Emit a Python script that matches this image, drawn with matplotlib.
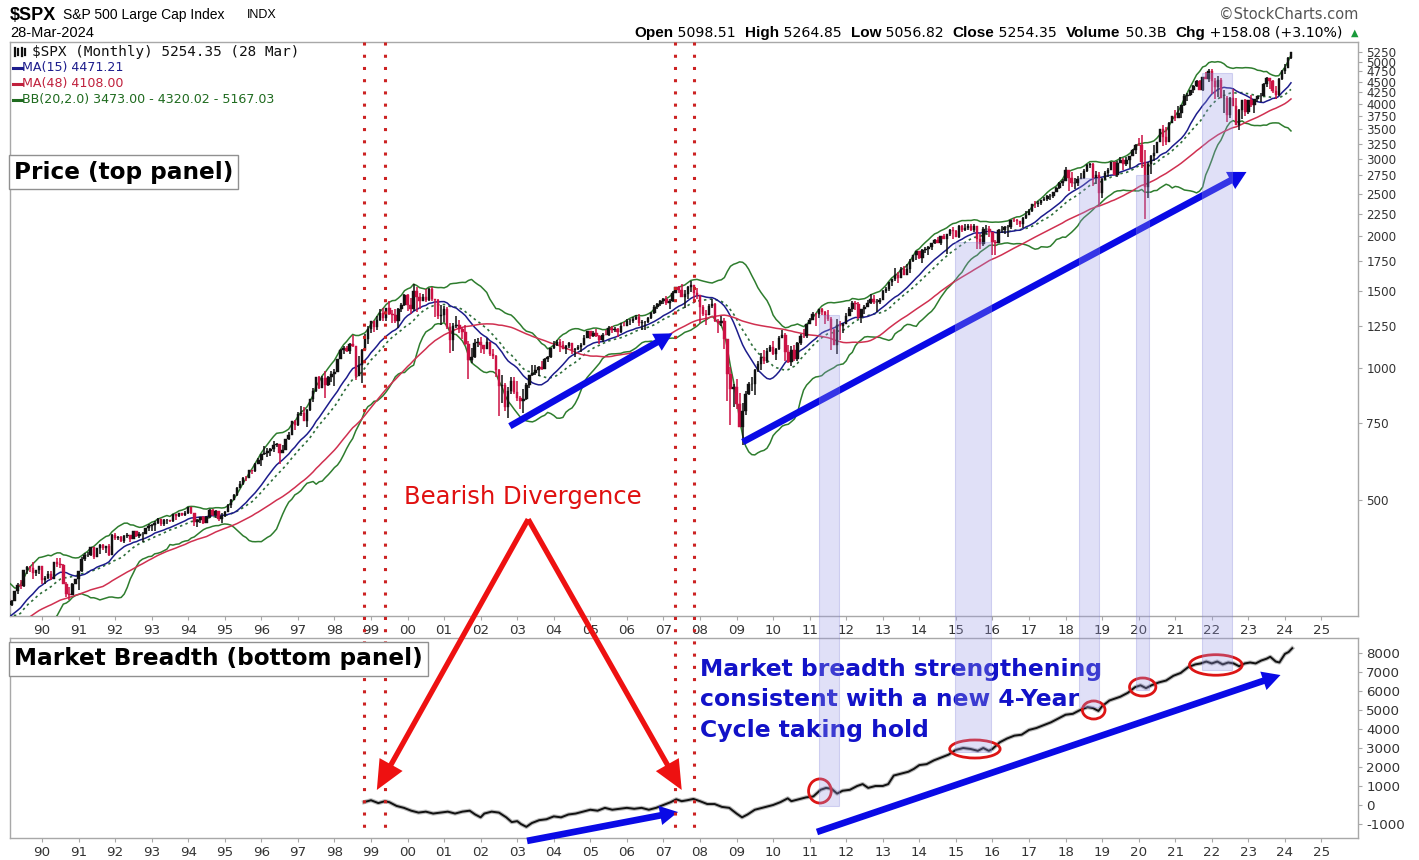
import numpy as np
import pandas as pd
import matplotlib
matplotlib.use("Agg")
import matplotlib.pyplot as plt
from matplotlib.patches import Polygon, Ellipse, FancyArrowPatch, ConnectionPatch, ArrowStyle
from matplotlib.lines import Line2D
from matplotlib.ticker import NullLocator

# ---------------- data ----------------
first_year = 1985  # monthly closes start Jan 1985 (needed to seed the moving averages)
monthly_close = [
    179.63, 181.18, 180.66, 179.83, 189.55, 191.85, 190.92, 188.63, 182.08, 189.82, 202.17, 211.28,  # 1985
    211.78, 226.92, 238.90, 235.52, 247.35, 250.84, 236.12, 252.93, 231.32, 243.98, 249.22, 242.17,  # 1986
    274.08, 284.20, 291.70, 288.36, 290.10, 304.00, 318.66, 329.80, 321.83, 251.79, 230.30, 247.08,  # 1987
    257.07, 267.82, 258.89, 261.33, 262.16, 273.50, 272.02, 261.52, 271.91, 278.97, 273.70, 277.72,  # 1988
    297.47, 288.86, 294.87, 309.64, 320.52, 317.98, 346.08, 351.45, 349.15, 340.36, 345.99, 353.40,  # 1989
    329.08, 331.89, 339.94, 330.80, 361.23, 358.02, 356.15, 322.56, 306.05, 304.00, 322.22, 330.22,  # 1990
    343.93, 367.07, 375.22, 375.34, 389.83, 371.16, 387.81, 395.43, 387.86, 392.46, 375.22, 417.09,  # 1991
    408.79, 412.70, 403.69, 414.95, 415.35, 408.14, 424.21, 414.03, 417.80, 418.68, 431.35, 435.71,  # 1992
    438.78, 443.38, 451.67, 440.19, 450.19, 450.53, 448.13, 463.56, 458.93, 467.83, 461.79, 466.45,  # 1993
    481.61, 467.14, 445.77, 450.91, 456.50, 444.27, 458.26, 475.49, 462.69, 472.35, 453.69, 459.27,  # 1994
    470.42, 487.39, 500.71, 514.71, 533.40, 544.75, 562.06, 561.88, 584.41, 581.50, 605.37, 615.93,  # 1995
    636.02, 640.43, 645.50, 654.17, 669.12, 670.63, 639.95, 651.99, 687.31, 705.27, 757.02, 740.74,  # 1996
    786.16, 790.82, 757.12, 801.34, 848.28, 885.14, 954.31, 899.47, 947.28, 914.62, 955.40, 970.43,  # 1997
    980.28, 1049.34, 1101.75, 1111.75, 1090.82, 1133.84, 1120.67, 957.28, 1017.01, 1098.67, 1163.63, 1229.23,  # 1998
    1279.64, 1238.33, 1286.37, 1335.18, 1301.84, 1372.71, 1328.72, 1320.41, 1282.71, 1362.93, 1388.91, 1469.25,  # 1999
    1394.46, 1366.42, 1498.58, 1452.43, 1420.60, 1454.60, 1430.83, 1517.68, 1436.51, 1429.40, 1314.95, 1320.28,  # 2000
    1366.01, 1239.94, 1160.33, 1249.46, 1255.82, 1224.42, 1211.23, 1133.58, 1040.94, 1059.78, 1139.45, 1148.08,  # 2001
    1130.20, 1106.73, 1147.39, 1076.92, 1067.14, 989.82, 911.62, 916.07, 815.28, 885.76, 936.31, 879.82,  # 2002
    855.70, 841.15, 848.18, 916.92, 963.59, 974.50, 990.31, 1008.01, 995.97, 1050.71, 1058.20, 1111.92,  # 2003
    1131.13, 1144.94, 1126.21, 1107.30, 1120.68, 1140.84, 1101.72, 1104.24, 1114.58, 1130.20, 1173.82, 1211.92,  # 2004
    1181.27, 1203.60, 1180.59, 1156.85, 1191.50, 1191.33, 1234.18, 1220.33, 1228.81, 1207.01, 1249.48, 1248.29,  # 2005
    1280.08, 1280.66, 1294.83, 1310.61, 1270.09, 1270.20, 1276.66, 1303.82, 1335.85, 1377.94, 1400.63, 1418.30,  # 2006
    1438.24, 1406.82, 1420.86, 1482.37, 1530.62, 1503.35, 1455.27, 1473.99, 1526.75, 1549.38, 1481.14, 1468.36,  # 2007
    1378.55, 1330.63, 1322.70, 1385.59, 1400.38, 1280.00, 1267.38, 1282.83, 1166.36, 968.75, 896.24, 903.25,  # 2008
    825.88, 735.09, 797.87, 872.81, 919.14, 919.32, 987.48, 1020.62, 1057.08, 1036.19, 1095.63, 1115.10,  # 2009
    1073.87, 1104.49, 1169.43, 1186.69, 1089.41, 1030.71, 1101.60, 1049.33, 1141.20, 1183.26, 1180.55, 1257.64,  # 2010
    1286.12, 1327.22, 1325.83, 1363.61, 1345.20, 1320.64, 1292.28, 1218.89, 1131.42, 1253.30, 1246.96, 1257.60,  # 2011
    1312.41, 1365.68, 1408.47, 1397.91, 1310.33, 1362.16, 1379.32, 1406.58, 1440.67, 1412.16, 1416.18, 1426.19,  # 2012
    1498.11, 1514.68, 1569.19, 1597.57, 1630.74, 1606.28, 1685.73, 1632.97, 1681.55, 1756.54, 1805.81, 1848.36,  # 2013
    1782.59, 1859.45, 1872.34, 1883.95, 1923.57, 1960.23, 1930.67, 2003.37, 1972.29, 2018.05, 2067.56, 2058.90,  # 2014
    1994.99, 2104.50, 2067.89, 2085.51, 2107.39, 2063.11, 2103.84, 1972.18, 1920.03, 2079.36, 2080.41, 2043.94,  # 2015
    1940.24, 1932.23, 2059.74, 2065.30, 2096.95, 2098.86, 2173.60, 2170.95, 2168.27, 2126.15, 2198.81, 2238.83,  # 2016
    2278.87, 2363.64, 2362.72, 2384.20, 2411.80, 2423.41, 2470.30, 2471.65, 2519.36, 2575.26, 2647.58, 2673.61,  # 2017
    2823.81, 2713.83, 2640.87, 2648.05, 2705.27, 2718.37, 2816.29, 2901.52, 2913.98, 2711.74, 2760.17, 2506.85,  # 2018
    2704.10, 2784.49, 2834.40, 2945.83, 2752.06, 2941.76, 2980.38, 2926.46, 2976.74, 3037.56, 3140.98, 3230.78,  # 2019
    3225.52, 2954.22, 2584.59, 2912.43, 3044.31, 3100.29, 3271.12, 3500.31, 3363.00, 3269.96, 3621.63, 3756.07,  # 2020
    3714.24, 3811.15, 3972.89, 4181.17, 4204.11, 4297.50, 4395.26, 4522.68, 4307.54, 4605.38, 4567.00, 4766.18,  # 2021
    4515.55, 4373.94, 4530.41, 4131.93, 4132.15, 3785.38, 4130.29, 3955.00, 3585.62, 3871.98, 4080.11, 3839.50,  # 2022
    4076.60, 3970.15, 4109.31, 4169.48, 4179.83, 4450.38, 4588.96, 4507.66, 4288.05, 4193.80, 4567.80, 4769.83,  # 2023
    4845.65, 5096.27, 5254.35,  # 2024
]

candle_first_year = 1989  # highs / lows start Jan 1989
monthly_high = [
    297.5, 300.0, 296.0, 310.0, 323.0, 328.0, 347.0, 353.0, 354.0, 360.4, 346.0, 354.0,
    354.0, 336.0, 344.0, 344.0, 362.0, 368.0, 369.8, 357.0, 325.0, 316.0, 324.0, 331.0,
    344.0, 370.0, 378.0, 381.0, 390.0, 391.0, 389.0, 396.0, 396.0, 393.0, 398.0, 418.0,
    420.8, 414.0, 413.0, 417.0, 420.0, 417.0, 424.5, 425.0, 423.0, 422.0, 431.5, 441.0,
    442.0, 449.0, 456.0, 452.0, 453.0, 452.0, 451.0, 464.0, 463.0, 468.0, 468.0, 471.0,
    482.9, 482.0, 468.0, 452.0, 457.0, 459.0, 459.0, 477.0, 476.0, 474.0, 473.0, 466.0,
    472.0, 489.0, 503.0, 515.0, 535.0, 552.0, 564.0, 566.0, 586.0, 587.0, 606.0, 622.0,
    637.0, 665.0, 656.0, 658.0, 680.0, 673.0, 672.0, 666.0, 690.0, 714.0, 758.0, 762.0,
    794.0, 818.0, 815.0, 805.0, 851.0, 899.0, 955.0, 961.0, 961.0, 983.0, 960.0, 986.0,
    993.0, 1051.0, 1105.0, 1123.0, 1122.0, 1139.0, 1190.6, 1121.0, 1066.0, 1104.0, 1193.0, 1244.0,
    1283.0, 1282.0, 1317.0, 1364.0, 1374.0, 1374.0, 1420.0, 1357.0, 1362.0, 1373.0, 1408.0, 1473.0,
    1478.0, 1445.0, 1553.0, 1527.0, 1481.0, 1475.0, 1517.0, 1525.0, 1531.0, 1437.0, 1437.0, 1390.0,
    1383.0, 1376.0, 1268.0, 1269.0, 1316.0, 1287.0, 1239.0, 1255.0, 1155.0, 1110.0, 1163.0, 1173.0,
    1176.0, 1131.0, 1173.0, 1147.0, 1106.0, 1070.0, 994.0, 965.0, 925.0, 907.0, 952.0, 954.0,
    935.0, 864.0, 895.0, 924.0, 965.0, 1015.0, 1015.0, 1012.0, 1040.0, 1053.0, 1063.0, 1112.0,
    1155.0, 1158.0, 1163.0, 1150.0, 1128.0, 1146.0, 1141.0, 1110.0, 1131.0, 1143.0, 1188.0, 1217.0,
    1217.0, 1212.0, 1229.0, 1192.0, 1199.0, 1219.0, 1246.0, 1245.0, 1243.0, 1233.0, 1270.0, 1276.0,
    1295.0, 1297.0, 1310.0, 1318.0, 1326.0, 1284.0, 1281.0, 1306.0, 1340.0, 1389.0, 1407.0, 1431.0,
    1441.0, 1461.0, 1438.0, 1499.0, 1534.0, 1540.0, 1556.0, 1503.0, 1539.0, 1576.1, 1545.0, 1523.0,
    1471.0, 1396.0, 1359.0, 1397.0, 1440.0, 1404.0, 1292.0, 1314.0, 1303.0, 1167.0, 1007.0, 919.0,
    943.8, 875.0, 832.0, 888.0, 930.0, 956.0, 997.0, 1039.0, 1080.0, 1101.0, 1113.0, 1130.0,
    1150.0, 1113.0, 1181.0, 1219.8, 1205.0, 1131.0, 1120.0, 1129.0, 1148.0, 1196.0, 1227.0, 1263.0,
    1302.0, 1344.0, 1333.0, 1366.0, 1370.6, 1346.0, 1356.0, 1308.0, 1230.0, 1293.0, 1277.0, 1270.0,
    1333.0, 1378.0, 1420.0, 1422.0, 1415.0, 1363.0, 1392.0, 1426.0, 1474.5, 1470.0, 1434.0, 1448.0,
    1504.0, 1530.0, 1570.0, 1598.0, 1687.0, 1654.0, 1698.0, 1709.0, 1729.9, 1775.0, 1813.0, 1849.0,
    1850.8, 1867.0, 1884.0, 1897.0, 1925.0, 1968.0, 1991.0, 2005.0, 2019.3, 2018.0, 2075.8, 2093.6,
    2064.4, 2119.6, 2117.5, 2125.9, 2134.7, 2129.9, 2132.8, 2112.7, 2021.0, 2094.3, 2116.5, 2104.3,
    2038.2, 1962.9, 2072.2, 2111.1, 2103.5, 2120.6, 2177.1, 2193.8, 2187.9, 2169.6, 2214.1, 2277.5,
    2300.9, 2371.5, 2401.0, 2398.2, 2418.7, 2453.8, 2484.0, 2490.9, 2519.4, 2582.0, 2657.7, 2695.0,
    2872.9, 2789.2, 2801.9, 2717.5, 2742.2, 2791.5, 2848.0, 2916.5, 2940.9, 2939.9, 2815.2, 2800.2,
    2708.0, 2813.5, 2860.3, 2949.5, 2954.1, 2964.2, 3028.0, 3013.6, 3022.0, 3050.1, 3154.3, 3247.9,
    3337.8, 3393.5, 3136.7, 2954.9, 3068.7, 3233.1, 3280.0, 3514.8, 3588.1, 3549.9, 3646.0, 3760.2,
    3870.9, 3950.4, 3983.9, 4218.8, 4238.0, 4302.4, 4430.0, 4537.4, 4545.9, 4608.1, 4743.8, 4808.9,
    4818.6, 4595.3, 4637.3, 4593.5, 4307.7, 4177.5, 4140.2, 4325.3, 4119.3, 3905.4, 4080.1, 4101.0,
    4094.2, 4195.4, 4110.8, 4170.1, 4231.1, 4458.5, 4607.1, 4584.6, 4541.3, 4393.6, 4587.6, 4793.3,
    4931.1, 5111.1, 5264.85,
]
monthly_low = [
    277.7, 287.0, 286.0, 294.0, 306.0, 313.0, 317.0, 339.0, 342.0, 331.0, 336.0, 340.0,
    322.0, 322.0, 331.0, 328.0, 330.0, 352.0, 350.0, 321.0, 300.0, 295.5, 303.0, 322.0,
    311.5, 343.0, 364.0, 370.0, 373.0, 367.0, 370.0, 376.0, 384.0, 379.0, 372.0, 375.0,
    406.0, 406.0, 401.0, 399.0, 409.0, 401.0, 408.0, 411.0, 410.0, 402.0, 418.0, 426.0,
    426.0, 426.0, 440.0, 437.0, 437.0, 441.0, 445.0, 445.0, 450.0, 457.0, 459.0, 460.0,
    465.0, 464.0, 436.0, 435.0, 444.0, 442.0, 443.0, 456.0, 460.0, 455.0, 449.0, 443.0,
    457.0, 470.0, 479.0, 500.0, 511.0, 532.0, 542.0, 553.0, 560.0, 572.0, 579.0, 605.0,
    597.0, 633.0, 627.0, 630.0, 645.0, 662.0, 605.0, 639.0, 649.0, 684.0, 703.0, 723.0,
    737.0, 778.0, 756.0, 733.0, 798.0, 835.0, 884.0, 898.0, 899.0, 855.0, 911.0, 928.0,
    912.0, 980.0, 1046.0, 1076.0, 1088.0, 1074.0, 1114.0, 939.0, 957.0, 923.0, 1094.0, 1137.0,
    1205.0, 1211.0, 1223.0, 1282.0, 1281.0, 1278.0, 1322.0, 1268.0, 1269.0, 1233.0, 1342.0, 1387.0,
    1350.0, 1325.0, 1346.0, 1339.0, 1361.0, 1420.0, 1413.0, 1421.0, 1421.0, 1305.0, 1294.0, 1254.0,
    1274.0, 1228.0, 1081.0, 1091.0, 1232.0, 1203.0, 1165.0, 1126.0, 944.8, 1026.0, 1054.0, 1114.0,
    1081.0, 1074.0, 1106.0, 1064.0, 1048.0, 952.0, 775.7, 833.0, 800.0, 768.6, 872.0, 872.0,
    840.0, 806.0, 789.0, 847.0, 902.0, 957.0, 962.0, 960.0, 990.0, 995.0, 1031.0, 1053.0,
    1105.0, 1124.0, 1087.0, 1107.0, 1076.0, 1113.0, 1078.0, 1060.0, 1102.0, 1090.0, 1127.0, 1173.0,
    1163.0, 1180.0, 1176.0, 1137.0, 1146.0, 1188.0, 1183.0, 1201.0, 1206.0, 1176.0, 1202.0, 1246.0,
    1245.0, 1253.0, 1268.0, 1290.0, 1245.0, 1219.0, 1224.0, 1265.0, 1291.0, 1331.0, 1360.0, 1385.0,
    1403.0, 1389.0, 1364.0, 1416.0, 1484.0, 1485.0, 1454.0, 1370.6, 1439.0, 1490.0, 1406.0, 1435.0,
    1270.0, 1317.0, 1256.0, 1318.0, 1373.0, 1272.0, 1200.0, 1247.0, 1106.0, 839.8, 741.0, 815.0,
    805.0, 735.0, 666.8, 783.0, 866.0, 888.0, 869.0, 978.0, 992.0, 1020.0, 1029.0, 1086.0,
    1071.0, 1044.0, 1101.0, 1170.0, 1040.0, 1028.0, 1011.0, 1040.0, 1040.0, 1131.0, 1173.0, 1173.0,
    1257.0, 1290.0, 1249.0, 1302.0, 1319.0, 1258.0, 1283.0, 1101.0, 1136.0, 1074.8, 1158.0, 1202.0,
    1258.0, 1312.0, 1340.0, 1358.0, 1291.0, 1267.0, 1325.0, 1378.0, 1397.0, 1403.0, 1343.0, 1398.0,
    1426.0, 1485.0, 1501.0, 1536.0, 1581.0, 1560.0, 1604.0, 1627.0, 1633.0, 1646.0, 1746.0, 1767.0,
    1770.0, 1737.9, 1834.0, 1814.0, 1859.0, 1915.0, 1930.0, 1904.8, 1964.0, 1820.7, 2001.0, 1972.6,
    1988.1, 1980.9, 2039.7, 2048.4, 2067.9, 2056.3, 2044.0, 1867.0, 1871.9, 1893.7, 2019.4, 1993.3,
    1812.3, 1810.1, 1937.1, 2033.8, 2025.9, 1991.7, 2074.0, 2147.6, 2119.1, 2097.8, 2083.8, 2187.4,
    2245.1, 2271.7, 2322.3, 2328.9, 2352.7, 2405.7, 2407.7, 2417.4, 2446.6, 2515.2, 2557.4, 2605.5,
    2682.4, 2532.7, 2585.9, 2553.8, 2594.6, 2692.0, 2698.9, 2796.3, 2864.1, 2603.5, 2631.1, 2346.6,
    2444.0, 2681.8, 2722.3, 2848.6, 2750.5, 2728.8, 2952.2, 2822.1, 2891.9, 2855.9, 3050.7, 3070.3,
    3214.6, 2855.8, 2191.9, 2447.5, 2766.6, 2965.7, 3115.0, 3284.5, 3209.5, 3233.9, 3279.7, 3633.4,
    3662.7, 3725.6, 3723.3, 3955.5, 4056.9, 4164.4, 4233.1, 4367.7, 4305.9, 4278.9, 4560.0, 4495.1,
    4222.6, 4114.7, 4157.9, 4124.3, 3810.3, 3636.9, 3721.6, 3954.5, 3584.1, 3491.6, 3698.2, 3764.5,
    3794.3, 3943.1, 3808.9, 4048.3, 4048.3, 4166.2, 4385.1, 4335.3, 4238.6, 4103.8, 4167.9, 4546.5,
    4682.1, 4853.4, 5056.82,
]

# market breadth line
breadth_time = [
    1998.81, 1999.0, 1999.2, 1999.38, 1999.5, 1999.7, 1999.9, 2000.1, 2000.3, 2000.5, 2000.7, 2000.9,
    2001.1, 2001.3, 2001.5, 2001.7, 2001.85, 2002.0, 2002.1, 2002.3, 2002.5, 2002.7, 2002.85, 2003.0,
    2003.1, 2003.25, 2003.4, 2003.6, 2003.8, 2004.0, 2004.2, 2004.4, 2004.6, 2004.8, 2005.0, 2005.2,
    2005.4, 2005.6, 2005.8, 2006.0, 2006.2, 2006.4, 2006.6, 2006.8, 2007.0, 2007.2, 2007.35, 2007.5,
    2007.65, 2007.82, 2008.0, 2008.2, 2008.4, 2008.6, 2008.8, 2009.0, 2009.15, 2009.3, 2009.5, 2009.7,
    2010.0, 2010.2, 2010.4, 2010.5, 2010.7, 2010.9, 2011.1, 2011.3, 2011.45, 2011.6, 2011.75, 2011.9,
    2012.1, 2012.3, 2012.45, 2012.6, 2012.8, 2013.0, 2013.15, 2013.3, 2013.5, 2013.7, 2013.85, 2014.0,
    2014.2, 2014.4, 2014.6, 2014.8, 2015.0, 2015.2, 2015.4, 2015.6, 2015.75, 2015.9, 2016.0, 2016.2,
    2016.4, 2016.6, 2016.8, 2017.0, 2017.2, 2017.4, 2017.6, 2017.8, 2018.0, 2018.2, 2018.4, 2018.6,
    2018.75, 2018.9, 2019.0, 2019.2, 2019.35, 2019.5, 2019.7, 2019.9, 2020.05, 2020.2, 2020.35, 2020.55,
    2020.75, 2020.95, 2021.15, 2021.35, 2021.55, 2021.7, 2021.85, 2022.0, 2022.15, 2022.3, 2022.45, 2022.6,
    2022.75, 2022.9, 2023.05, 2023.2, 2023.35, 2023.5, 2023.6, 2023.75, 2023.85, 2024.0, 2024.1, 2024.2,
]
breadth_value = [
    150, 250, 100, 200, 150, -50, -150, -300, -400, -350, -450, -400,
    -350, -450, -350, -300, -500, -650, -450, -350, -400, -650, -900, -850,
    -1000, -1150, -950, -800, -750, -600, -650, -500, -450, -350, -250, -300,
    -150, -250, -200, -150, -200, -150, -250, -150, 0, 150, 300, 200,
    250, 320, 200, 50, 50, -100, -150, -450, -650, -500, -250, -150,
    0, 150, 350, 200, 300, 400, 450, 800, 900, 850, 600, 750,
    800, 1000, 1100, 900, 1000, 1000, 1100, 1550, 1650, 1750, 1900, 2100,
    2150, 2350, 2500, 2650, 2900, 3000, 2950, 2850, 3000, 2850, 2950, 3300,
    3500, 3650, 3700, 3950, 4050, 4200, 4350, 4550, 4750, 4800, 5000, 5150,
    5100, 4950, 5200, 5500, 5600, 5700, 5900, 6200, 6300, 6150, 6300, 6450,
    6550, 6800, 6950, 7250, 7400, 7450, 7550, 7450, 7550, 7400, 7500, 7450,
    7300, 7450, 7500, 7450, 7600, 7700, 7800, 7550, 7500, 7950, 8050, 8250,
]

price_ticks = [500, 750, 1000, 1250, 1500, 1750, 2000, 2250, 2500, 2750, 3000,
               3250, 3500, 3750, 4000, 4250, 4500, 4750, 5000, 5250]
breadth_ticks = [-1000, 0, 1000, 2000, 3000, 4000, 5000, 6000, 7000, 8000]
year_ticks = list(range(1990, 2026))

# ---------------- derived series ----------------
close = pd.Series(monthly_close, dtype=float)
t_all = first_year + np.arange(len(close)) / 12.0
ma15 = close.rolling(15).mean()
ma48 = close.rolling(48).mean()
bb_mid = close.rolling(20).mean()
bb_std = close.rolling(20).std(ddof=0)
bb_up = bb_mid + 2 * bb_std
bb_lo = bb_mid - 2 * bb_std

off = (candle_first_year - first_year) * 12
c_close = close.values[off:]
c_open = close.shift(1).values[off:]
c_high = np.array(monthly_high)
c_low = np.array(monthly_low)
c_t = t_all[off:]

# ---------------- figure ----------------
W, H = 1419, 860
fig = plt.figure(figsize=(W / 100, H / 100), dpi=100)
fig.patch.set_facecolor("white")
FONT = "DejaVu Sans"

def frame(x0, y0, x1, y1):
    return [x0 / W, 1 - y1 / H, (x1 - x0) / W, (y1 - y0) / H]

ax1 = fig.add_axes(frame(10, 42, 1358, 616))
ax2 = fig.add_axes(frame(10, 638, 1358, 838))

XL = (1989.125, 2026.0)
SPINE = "#a8a8a8"
TICKC = "#333333"
for ax in (ax1, ax2):
    ax.set_xlim(*XL)
    for s in ax.spines.values():
        s.set_color(SPINE)
        s.set_linewidth(1.0)
    ax.yaxis.tick_right()
    ax.set_xticks(year_ticks)
    ax.set_xticklabels([f"{y % 100:02d}" for y in year_ticks], fontfamily=FONT)
    ax.tick_params(axis="x", length=3, color=SPINE, labelsize=9.6, labelcolor=TICKC, pad=3)
    ax.tick_params(axis="y", length=3, color=SPINE, labelsize=9.6, labelcolor=TICKC, pad=3)

# --- top panel: price ---
ax1.set_yscale("log")
ax1.set_ylim(272, 5540)
ax1.yaxis.set_minor_locator(NullLocator())
ax1.yaxis.set_minor_formatter(plt.NullFormatter())
ax1.set_yticks(price_ticks)
ax1.set_yticklabels([str(v) for v in price_ticks], fontfamily=FONT)
ax1.tick_params(axis="y", labelsize=8.6)

up = c_close >= c_open
col = np.where(up, "#111111", "#cc1144")
ax1.vlines(c_t, c_low, c_high, colors=col, lw=1.1, zorder=4)
ax1.bar(c_t, np.abs(c_close - c_open), bottom=np.minimum(c_open, c_close),
        width=0.068, color=col, edgecolor=col, linewidth=0.3, zorder=4)

mask = t_all >= 1988.9
ax1.plot(t_all[mask], bb_up[mask], color="#2e7d2e", lw=1.1, zorder=3)
ax1.plot(t_all[mask], bb_lo[mask], color="#2e7d2e", lw=1.1, zorder=3)
ax1.plot(t_all[mask], bb_mid[mask], color="#2e6e3a", lw=1.2, ls=(0, (1.5, 2)), zorder=3)
ax1.plot(t_all[mask], ma15[mask], color="#1c1c8c", lw=1.1, zorder=3)
ax1.plot(t_all[mask], ma48[mask], color="#d03050", lw=1.1, zorder=3)

# legend block inside top panel
leg_items = [("$SPX (Monthly) 5254.35 (28 Mar)", "#111111"),
             ("MA(15) 4471.21", "#1c1c8c"),
             ("MA(48) 4108.00", "#c0203c"),
             ("BB(20,2.0) 3473.00 - 4320.02 - 5167.03", "#1f6b1f")]
for i, (txt, c) in enumerate(leg_items):
    ypx = 52 + 16 * i
    yf = 1 - ypx / H
    if i == 0:
        fig.text(32 / W, yf, txt, color=c, fontsize=10.4, family="DejaVu Sans Mono", va="center")
        for xx, h in [(15, 8), (18, 6), (22, 8), (25, 6)]:
            fig.add_artist(Line2D([xx / W, xx / W], [1 - (ypx - h / 2) / H, 1 - (ypx + h / 2) / H],
                                  color="#111111", lw=1.6))
    else:
        fig.add_artist(Line2D([13 / W, 22 / W], [yf, yf], color=c, lw=2.2))
        fig.text(22 / W, yf, txt, color=c, fontsize=9.1, family=FONT, va="center")

# --- bottom panel: breadth ---
ax2.set_ylim(-1737, 8789)
ax2.set_yticks(breadth_ticks)
ax2.set_yticklabels([str(v) for v in breadth_ticks], fontfamily=FONT)
ax2.plot(breadth_time, breadth_value, color="#bbbbbb", lw=3.0, zorder=3, solid_joinstyle="round")
ax2.plot(breadth_time, breadth_value, color="#111111", lw=1.4, zorder=4, solid_joinstyle="round")

# ---------------- annotations ----------------
def fig_xy(ax, x, y):
    return fig.transFigure.inverted().transform(ax.transData.transform((x, y)))

# shaded windows spanning both panels (x in years, top in price, bottom in breadth)
windows = [(2011.25, 2011.80, 1321, -50),
           (2014.97, 2015.95, 1939, 2790),
           (2018.36, 2018.91, 2716, 5160),
           (2019.92, 2020.28, 2756, 6050),
           (2021.73, 2022.55, 4703, 7100)]
for x0, x1, ptop, vbot in windows:
    a = fig_xy(ax1, x0, ptop); b = fig_xy(ax1, x1, ptop)
    c = fig_xy(ax2, x1, vbot); d = fig_xy(ax2, x0, vbot)
    fig.add_artist(Polygon([a, b, c, d], closed=True, transform=fig.transFigure,
                           facecolor="#9a9ae6", alpha=0.30, edgecolor="#8080d8", lw=0.8, zorder=2))

# red dotted vertical lines
for xv in (1998.81, 1999.38, 2007.31, 2007.83):
    top = fig_xy(ax1, xv, 5540)
    bot = fig_xy(ax2, xv, -1650)
    fig.add_artist(Line2D([top[0], bot[0]], [top[1], bot[1]], color="#cc2222",
                          lw=2.2, ls=(0, (1, 3)), zorder=3))

blue_style = ArrowStyle("simple", head_length=13, head_width=14, tail_width=4.8)
red_style = ArrowStyle("simple", head_length=21, head_width=19, tail_width=3.8)

def arrow(ax, p0, p1, color, style):
    ap = FancyArrowPatch(p0, p1, arrowstyle=style, color=color, transform=ax.transData,
                         shrinkA=0, shrinkB=0, mutation_scale=1, clip_on=False, zorder=6, lw=0)
    ax.add_patch(ap)

arrow(ax1, (2002.80, 737), (2007.25, 1200), "#0a0ae6", blue_style)
arrow(ax1, (2009.17, 678), (2022.95, 2800), "#0a0ae6", blue_style)
arrow(ax2, (2003.27, -1890), (2007.40, -370), "#0a0ae6", blue_style)
arrow(ax2, (2011.20, -1420), (2023.88, 6840), "#0a0ae6", blue_style)

for tip in ((1999.16, 790), (2007.50, 790)):
    cp = ConnectionPatch(xyA=(2003.30, 452), coordsA=ax1.transData,
                         xyB=tip, coordsB=ax2.transData,
                         arrowstyle=red_style, mutation_scale=1, color="#ee1111",
                         shrinkA=0, shrinkB=0, lw=0, zorder=6)
    fig.add_artist(cp)

ax1.text(2003.14, 508, "Bearish Divergence", color="#e01010", fontsize=17.5,
         family=FONT, ha="center", va="center", zorder=7)

# red ellipses on the breadth line
for cx, cy, w, h in [(2011.28, 737, 0.62, 1270), (2015.52, 2947, 1.38, 950),
                     (2018.77, 5000, 0.62, 950), (2020.11, 6210, 0.72, 950),
                     (2022.11, 7370, 1.44, 1080)]:
    ax2.add_patch(Ellipse((cx, cy), w, h, fill=False, edgecolor="#dd1515", lw=2.0, zorder=6))

ax2.text(2007.99, 5526, "Market breadth strengthening\nconsistent with a new 4-Year\nCycle taking hold",
         color="#1212c8", fontsize=16.9, fontweight="bold", family=FONT,
         ha="left", va="center", linespacing=1.42, zorder=7)

# panel labels in boxes
box = dict(boxstyle="square,pad=0.22", facecolor="white", edgecolor="#909090", lw=1.0)
fig.text(14 / W, 1 - 172 / H, "Price (top panel)", fontsize=16.7, fontweight="bold",
         family=FONT, va="center", ha="left", bbox=box, zorder=8)
fig.text(14 / W, 1 - 659 / H, "Market Breadth (bottom panel)", fontsize=16.7, fontweight="bold",
         family=FONT, va="center", ha="left", bbox=box, zorder=8)

# ---------------- header ----------------
fig.text(10 / W, 1 - 15 / H, "$SPX", fontsize=13, fontweight="bold", family="Liberation Sans",
         va="center", ha="left")
fig.text(63 / W, 1 - 15 / H, "S&P 500 Large Cap Index", fontsize=10, family="Liberation Sans",
         va="center", ha="left")
fig.text(247 / W, 1 - 15 / H, "INDX", fontsize=9, family="Liberation Sans", va="center", ha="left")
fig.text(10 / W, 1 - 33 / H, "28-Mar-2024", fontsize=10.5, family="Liberation Sans",
         va="center", ha="left")
fig.text(1358 / W, 1 - 14 / H, "©StockCharts.com", fontsize=10.5, family=FONT,
         color="#555555", va="center", ha="right")

pieces = [("Open", True), (" 5098.51  ", False), ("High", True), (" 5264.85  ", False),
          ("Low", True), (" 5056.82  ", False), ("Close", True), (" 5254.35  ", False),
          ("Volume", True), (" 50.3B  ", False), ("Chg", True), (" +158.08 (+3.10%) ", False)]
renderer = fig.canvas.get_renderer()
xpx = 1347
fig.text(1358 / W, 1 - 33 / H, "▲", color="#1a9a3a", fontsize=7, family="DejaVu Sans",
         va="center", ha="right")
for s, bold in reversed(pieces):
    t = fig.text(xpx / W, 1 - 33 / H, s, fontsize=11 if bold else 10.2,
                 fontweight="bold" if bold else "normal",
                 family="Liberation Sans" if bold else FONT, va="center", ha="right")
    xpx -= t.get_window_extent(renderer=renderer).width

fig.savefig("out.png", dpi=100, facecolor="white")
